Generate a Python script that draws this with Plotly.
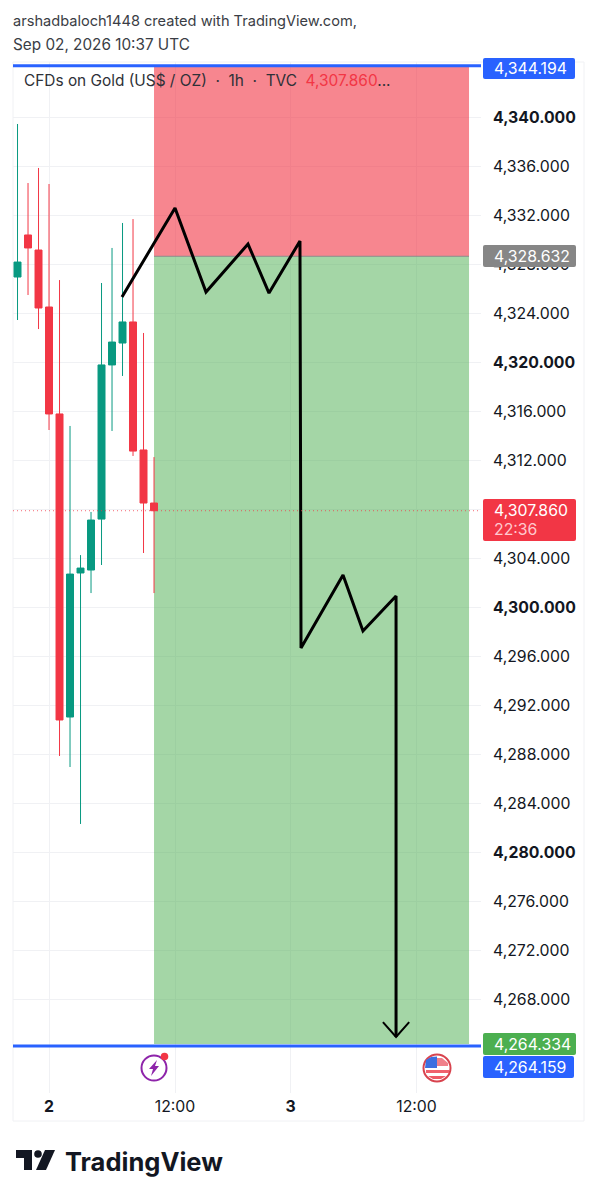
import plotly.graph_objects as go

W, H = 598, 1200
L, R, T, B = 13, 481, 62, 1093

# ---- data ----
bars = [-3, -2, -1, 0, 1, 2, 3, 4, 5, 6, 7, 8, 9, 10]
opens = [4326.94, 4330.37, 4329.14, 4324.49, 4315.76, 4291.02, 4302.78, 4303.02, 4307.18, 4319.76, 4321.55, 4323.27, 4312.82, 4308.49]
highs = [4339.43, 4334.61, 4335.84, 4334.53, 4326.69, 4314.78, 4304.24, 4307.76, 4326.45, 4329.31, 4331.35, 4331.67, 4322.37, 4312.24]
lows = [4323.43, 4325.47, 4322.69, 4314.45, 4287.84, 4286.94, 4282.29, 4301.14, 4303.43, 4314.37, 4318.86, 4312.33, 4304.41, 4301.14]
closes = [4328.16, 4329.31, 4324.41, 4315.76, 4290.78, 4302.69, 4303.18, 4307.10, 4319.76, 4321.63, 4323.27, 4312.73, 4308.49, 4307.86]

path_x = [6.95, 12, 14.95, 18.95, 20.95, 23.9, 24, 28, 29.9, 33.05, 33.05]
path_y = [4325.31, 4332.57, 4325.71, 4329.63, 4325.63, 4329.88, 4296.65, 4302.61, 4298.04, 4300.90, 4264.90]
head_x = [31.8, 33.05, 34.3]
head_y = [4266.12, 4264.90, 4266.12]

price_ticks = [4268, 4272, 4276, 4280, 4284, 4288, 4292, 4296, 4300, 4304, 4308, 4312, 4316, 4320, 4324, 4328, 4332, 4336, 4340]
bold_prices = [4340, 4320, 4300, 4280]
hidden_prices = [4308]
time_ticks = [0, 12, 23, 35]
time_labels = ["<b>2</b>", "12:00", "<b>3</b>", "12:00"]

top_level = 4344.194
bottom_level = 4264.159
entry = 4328.632
target = 4264.334
last_price = 4307.860
pos_x0, pos_x1 = 10, 40

GREEN, RED, BLUE = "#089981", "#F23645", "#2962FF"
FONT = "Inter"
TICK = 15.8

def px(x):
    return (x - L) / (R - L)

def py(y):
    return (B - y) / (B - T)

def rrect(x0, y0, x1, y1, r=2):
    a, b, c, d = px(x0), px(x1), py(y0), py(y1)
    dx, dy = r / (R - L), r / (B - T)
    return (f"M{a+dx},{c} L{b-dx},{c} Q{b},{c} {b},{c-dy} L{b},{d+dy} Q{b},{d} {b-dx},{d} "
            f"L{a+dx},{d} Q{a},{d} {a},{d+dy} L{a},{c-dy} Q{a},{c} {a+dx},{c} Z")

def poly(pts):
    return "M" + " L".join(f"{px(x)},{py(y)}" for x, y in pts) + " Z"

def circ(cx, cy, r, fill="rgba(0,0,0,0)", line=None, lw=0, layer="above"):
    return dict(type="circle", xref="paper", yref="paper", x0=px(cx - r), x1=px(cx + r),
                y0=py(cy + r), y1=py(cy - r), fillcolor=fill,
                line=dict(color=line or fill, width=lw), layer=layer)

def pshape(path, fill, layer="above"):
    return dict(type="path", xref="paper", yref="paper", path=path, fillcolor=fill,
                line=dict(width=0), layer=layer)

fig = go.Figure()
fig.add_trace(go.Candlestick(
    x=bars, open=opens, high=highs, low=lows, close=closes, showlegend=False, hoverinfo="skip",
    whiskerwidth=0,
    increasing=dict(line=dict(color=GREEN, width=1), fillcolor=GREEN),
    decreasing=dict(line=dict(color=RED, width=1), fillcolor=RED),
))
fig.add_trace(go.Scatter(x=path_x, y=path_y, mode="lines", line=dict(color="#000000", width=3),
                         showlegend=False, hoverinfo="skip"))
fig.add_trace(go.Scatter(x=head_x, y=head_y, mode="lines", line=dict(color="#000000", width=2),
                         showlegend=False, hoverinfo="skip"))

shapes = [
    dict(type="rect", xref="paper", yref="paper", x0=px(L), x1=px(584), y0=py(1121), y1=py(T),
         line=dict(color="#F0F1F4", width=1), fillcolor="rgba(0,0,0,0)", layer="below"),
    dict(type="rect", x0=pos_x0, x1=pos_x1, y0=entry, y1=top_level, xref="x", yref="y",
         fillcolor="rgba(242,54,69,0.60)", line=dict(width=0), layer="between"),
    dict(type="rect", x0=pos_x0, x1=pos_x1, y0=target, y1=entry, xref="x", yref="y",
         fillcolor="rgba(76,175,80,0.51)", line=dict(width=0), layer="between"),
    dict(type="line", x0=pos_x0, x1=pos_x1, y0=entry, y1=entry, xref="x", yref="y",
         line=dict(color="#8A8A8A", width=1), layer="between"),
    dict(type="line", xref="paper", x0=0, x1=1, yref="y", y0=top_level, y1=top_level,
         line=dict(color=BLUE, width=3), layer="above"),
    dict(type="line", xref="paper", x0=0, x1=1, yref="y", y0=bottom_level, y1=bottom_level,
         line=dict(color=BLUE, width=3), layer="above"),
    dict(type="line", xref="paper", x0=0, x1=1, yref="y", y0=last_price, y1=last_price,
         line=dict(color="rgba(242,54,69,0.75)", width=1, dash="1px,3px"), layer="above"),
]

shapes += [
    pshape(rrect(483, 58, 575, 79), "#2962FF"),
    pshape(rrect(483, 245, 576, 267), "#868686"),
    pshape(rrect(483, 499, 576, 541), "#F23645"),
    pshape(rrect(483, 1033, 576, 1055), "#4CAF50"),
    pshape(rrect(483, 1056, 574, 1078), "#2962FF"),
]

shapes += [
    circ(154, 1068, 12.5, fill="#FFFFFF", line="#8E24AA", lw=2),
    pshape(poly([(157, 1060), (149, 1069), (153, 1069), (151, 1076), (159, 1066), (155, 1066)]), "#8E24AA"),
    circ(164.5, 1056.5, 3.8, fill="#F23645"),
]
shapes += [
    circ(437, 1068, 13.5, fill="#FFFFFF", line="#D8434E", lw=2),
    pshape(poly([(426, 1060), (432, 1058), (442, 1058), (448, 1063), (448, 1066), (426, 1066)]), "#F0808A"),
    pshape(poly([(426, 1070), (449, 1070), (449, 1073), (426, 1073)]), "#F0606C"),
    pshape(poly([(428, 1076), (446, 1076), (441, 1079), (433, 1079)]), "#EE5A66"),
    pshape(poly([(426, 1060), (431, 1057), (437, 1056.5), (437, 1068), (425, 1068)]), "#3D6FE0"),
]
shapes += [
    pshape(poly([(16, 1150), (32, 1150), (32, 1170), (24, 1170), (24, 1158), (16, 1158)]), "#131722"),
    circ(38, 1154, 3.8, fill="#131722"),
    pshape(poly([(45, 1150), (55, 1150), (46, 1170), (36, 1170)]), "#131722"),
]

def tag(text, x, y, color="#FFFFFF", size=TICK, anchor="left"):
    return dict(text=text, xref="paper", yref="paper", x=px(x), y=py(y), xanchor=anchor, yanchor="middle",
                showarrow=False, font=dict(family=FONT, size=size, color=color), align="left",
                borderpad=0, borderwidth=0)

annotations = [
    tag("arshadbaloch1448 created with TradingView.com,", 13, 21, "#3A3D45", 14.6),
    tag("Sep 02, 2026 10:37 UTC", 13, 44, "#3A3D45", 15.3),
    tag("CFDs on Gold (US$ / OZ)  ·  1h  ·  TVC  <span style='color:#F23645'>4,307.860</span>...", 24, 80, "#2E3138", 15.4),
    tag("4,344.194", 494, 68),
    tag("4,328.632", 494, 256),
    tag("4,307.860", 494, 510),
    tag("22:36", 494, 529, "#FFC9CE"),
    tag("4,264.334", 494, 1044),
    tag("4,264.159", 494, 1067),
    dict(text="<b>TradingView</b>", xref="paper", yref="paper", x=px(63), y=py(1161), xanchor="left", yanchor="middle",
         showarrow=False, font=dict(family=FONT, size=25.5, color="#131722")),
]

price_labels = [("" if p in hidden_prices else f"<b>{p:,.3f}</b>" if p in bold_prices else f"{p:,.3f}") for p in price_ticks]

fig.update_layout(
    width=W, height=H, autosize=False,
    margin=dict(l=L, r=W - R, t=T, b=H - B, pad=0),
    paper_bgcolor="#FFFFFF", plot_bgcolor="#FFFFFF",
    font=dict(family=FONT, size=TICK, color="#131722"),
    boxgap=0.05, showlegend=False,
    shapes=shapes, annotations=annotations,
    xaxis=dict(range=[-3.43, 41.14], tickvals=time_ticks, ticktext=time_labels, rangeslider=dict(visible=False),
               showgrid=True, gridcolor="#F0F1F4", gridwidth=1, zeroline=False, showline=False, ticks="",
               tickfont=dict(family=FONT, size=TICK, color="#131722"), ticklabelstandoff=2),
    yaxis=dict(range=[4260.33, 4344.49], side="right", tickvals=price_ticks, ticktext=price_labels,
               showgrid=True, gridcolor="#F0F1F4", gridwidth=1, zeroline=False, showline=False, ticks="",
               tickfont=dict(family=FONT, size=TICK, color="#131722"), ticklabelstandoff=11),
)
fig.write_html("out.html", config=dict(displayModeBar=False),
               post_script="document.body.style.margin='0';document.body.style.overflow='hidden';")
